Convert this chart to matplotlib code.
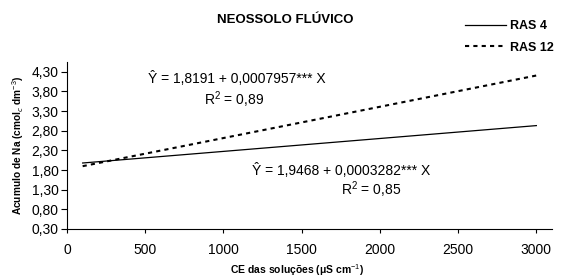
import numpy as np
import matplotlib.pyplot as plt
import matplotlib as mpl

mpl.rcParams.update({
    "font.family": ["Liberation Sans", "DejaVu Sans"],
    "font.size": 10,
    "mathtext.fontset": "custom",
    "mathtext.rm": "Liberation Sans",
    "mathtext.bf": "Liberation Sans:bold",
})

# Data: fitted regressions (CE range of the solutions)
ce_range = [100, 3000]
series = ["RAS 4", "RAS 12"]
intercepts = [1.9468, 1.8191]
slopes = [0.0003282, 0.0007957]
r2_values = ["0,85", "0,89"]
eq_labels = ["Ŷ = 1,9468 + 0,0003282*** X", "Ŷ = 1,8191 + 0,0007957*** X"]
yticks = [0.30, 0.80, 1.30, 1.80, 2.30, 2.80, 3.30, 3.80, 4.30]
xticks = [0, 500, 1000, 1500, 2000, 2500, 3000]

styles = ['-', (0, (2.0, 2.0))]
widths = [0.9, 1.5]

fig = plt.figure(figsize=(5.64, 2.79), dpi=100)
ax = fig.add_axes([67 / 564, 1 - 229 / 279, (552 - 67) / 564, (229 - 62) / 279])

x = np.array(ce_range, dtype=float)
handles = []
for i, name in enumerate(series):
    y = intercepts[i] + slopes[i] * x
    h, = ax.plot(x, y, color='black', linestyle=styles[i], linewidth=widths[i], label=name)
    handles.append(h)

ax.set_xlim(0, 3100)
ax.set_ylim(0.30, 4.55)
ax.set_xticks(xticks)
ax.set_yticks(yticks)
ax.set_yticklabels([f"{v:.2f}".replace('.', ',') for v in yticks], fontsize=10)
ax.set_xticklabels([str(v) for v in xticks], fontsize=10)
ax.tick_params(axis='x', direction='out', length=3, width=0.8, pad=7)
ax.tick_params(axis='y', direction='out', length=4, width=0.8, pad=2)
for s in ['top', 'right']:
    ax.spines[s].set_visible(False)
for s in ['left', 'bottom']:
    ax.spines[s].set_linewidth(0.8)

fig.text(297 / 564, 1 - 270 / 279, "CE das soluções ($\\mathbf{\\mu}$S cm$^{-1}$)",
         ha='center', va='center', fontsize=7.5, fontweight='bold')
ax.set_ylabel("Acumulo de Na (cmol$_c$ dm$^{-3}$)", fontsize=7.3, fontweight='bold', labelpad=4)

# equations
ax.text(1087, 4.14, eq_labels[1], ha='center', va='center', fontsize=10)
ax.text(1067, 3.58, f"R$^2$ = {r2_values[1]}", ha='center', va='center', fontsize=10)
ax.text(1751, 1.80, eq_labels[0], ha='center', va='center', fontsize=10)
ax.text(1943, 1.29, f"R$^2$ = {r2_values[0]}", ha='center', va='center', fontsize=10)

fig.text(285 / 564, 1 - 20 / 279, "NEOSSOLO FLÚVICO", ha='center', va='center',
         fontsize=9.5, fontweight='bold')

leg = fig.legend(handles=handles, loc='upper right', bbox_to_anchor=(565 / 564, 1 - 9 / 279),
                 frameon=False, handlelength=3.3, handletextpad=0.3,
                 labelspacing=0.75, prop={'weight': 'bold', 'size': 9})

fig.savefig("out.png", dpi=100)
